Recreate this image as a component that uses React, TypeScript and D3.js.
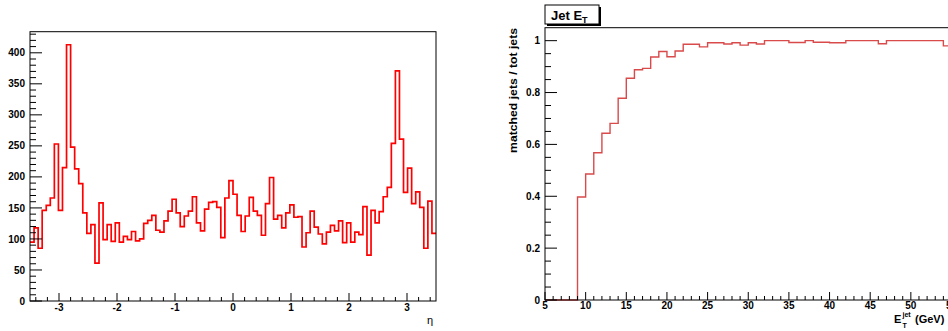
import React from "react";
import * as d3 from "d3";

// ---- Left panel: eta distribution (100 bins from -3.5 to 3.5)
const etaMin = -3.5;
const etaMax = 3.5;
const etaCounts = [
  95, 118, 85, 146, 154, 166, 253, 146, 215, 413, 248, 213, 189, 142, 109, 123, 61, 158, 99, 123, 96, 126, 95, 104, 99,
  112, 97, 100, 125, 130, 138, 114, 111, 129, 145, 164, 142, 120, 137, 145, 168, 126, 113, 148, 159, 160, 151, 102, 166, 194,
  172, 138, 112, 137, 167, 145, 138, 106, 157, 199, 132, 138, 118, 142, 155, 135, 136, 87, 110, 145, 119, 108, 92, 111, 122,
  113, 129, 94, 126, 95, 111, 107, 152, 74, 146, 126, 144, 168, 183, 254, 371, 261, 175, 214, 157, 176, 151, 85, 161, 109,
];
const etaYMax = 434;
const etaXTicks = [-3, -2, -1, 0, 1, 2, 3];
const etaYTicks = [0, 50, 100, 150, 200, 250, 300, 350, 400];

// ---- Right panel: efficiency vs jet ET (1 GeV bins from 5 to 55)
const etMin = 5;
const etMax = 55;
const effValues = [
  0, 0, 0, 0, 0.397, 0.486, 0.568, 0.643, 0.681, 0.778, 0.855, 0.888, 0.893, 0.937, 0.958, 0.938, 0.96, 0.986, 0.986, 0.976,
  0.992, 0.992, 0.987, 0.992, 0.983, 0.992, 0.987, 1.0, 1.0, 1.0, 0.993, 0.993, 1.0, 0.994, 0.994, 0.992, 0.992, 1.0, 1.0, 1.0,
  1.0, 0.988, 1.0, 1.0, 1.0, 1.0, 1.0, 1.0, 1.0, 0.98,
];
const effYMax = 1.05;
const etXTicks = [5, 10, 15, 20, 25, 30, 35, 40, 45, 50, 55];
const effYTicks = [0, 0.2, 0.4, 0.6, 0.8, 1];

const FONT = "'Liberation Sans', Arial, Helvetica, sans-serif";

function stepPoints(values: number[], lo: number, hi: number): [number, number][] {
  const w = (hi - lo) / values.length;
  const pts: [number, number][] = [];
  values.forEach((v, i) => {
    pts.push([lo + i * w, v]);
    pts.push([lo + (i + 1) * w, v]);
  });
  return pts;
}

export default function App() {
  // Left scales
  const lx = d3.scaleLinear().domain([etaMin, etaMax]).range([30, 436]);
  const ly = d3.scaleLinear().domain([0, etaYMax]).range([301, 31.7]);
  // Right scales
  const rx = d3.scaleLinear().domain([etMin, etMax]).range([545, 951.5]);
  const ry = d3.scaleLinear().domain([0, effYMax]).range([300, 27.7]);

  const leftLine = d3
    .line<[number, number]>()
    .x((d) => lx(d[0]))
    .y((d) => ly(d[1]))(stepPoints(etaCounts, etaMin, etaMax)) as string;
  const rightLine = d3
    .line<[number, number]>()
    .x((d) => rx(d[0]))
    .y((d) => ry(d[1]))(stepPoints(effValues, etMin, etMax)) as string;

  const leftXMinor = d3.range(-34, 35, 2).map((v) => v / 10);
  const leftYMinor = d3.range(0, 431, 10);
  const rightXMinor = d3.range(etMin, etMax + 1, 1);
  const rightYMinor = d3.range(0, 21, 1).map((v) => v * 0.05);

  return (
    <svg
      width={948}
      height={331}
      style={{ position: "absolute", left: 0, top: 0, background: "#fff" }}
      fontFamily={FONT}
    >
      <rect x={0} y={0} width={948} height={331} fill="#fff" />

      {/* ---------- Left panel ---------- */}
      <path d={leftLine} fill="none" stroke="#ff0000" strokeWidth={1.7} />
      <rect x={30} y={31.7} width={406} height={269.3} fill="none" stroke="#000" strokeWidth={1} />
      {leftXMinor.map((t) => {
        const major = Math.abs(t - Math.round(t)) < 1e-6;
        return (
          <line key={"lxm" + t} x1={lx(t)} x2={lx(t)} y1={301} y2={301 - (major ? 8 : 4)} stroke="#000" strokeWidth={1} />
        );
      })}
      {leftYMinor.map((t) => {
        const major = t % 50 === 0;
        return (
          <line key={"lym" + t} x1={30} x2={30 + (major ? 12 : 6)} y1={ly(t)} y2={ly(t)} stroke="#000" strokeWidth={1} />
        );
      })}
      {etaXTicks.map((t) => (
        <text key={"lxt" + t} x={lx(t)} y={311} textAnchor="middle" fontSize={10} fontWeight="bold" fill="#000">
          {t}
        </text>
      ))}
      {etaYTicks.map((t) => (
        <text key={"lyt" + t} x={25} y={ly(t)} dy="0.36em" textAnchor="end" fontSize={10} fontWeight="bold" fill="#000">
          {t}
        </text>
      ))}
      <text x={433} y={324} textAnchor="end" fontSize={11} fill="#000">
        η
      </text>

      {/* ---------- Right panel ---------- */}
      <path d={rightLine} fill="none" stroke="#d94a4a" strokeWidth={1.4} />
      <rect x={545} y={27.7} width={406.5} height={272.3} fill="none" stroke="#000" strokeWidth={1} />
      {rightXMinor.map((t) => {
        const major = t % 5 === 0;
        return (
          <line key={"rxm" + t} x1={rx(t)} x2={rx(t)} y1={300} y2={300 - (major ? 8 : 4)} stroke="#000" strokeWidth={1} />
        );
      })}
      {rightYMinor.map((t, i) => {
        const major = i % 4 === 0;
        return (
          <line key={"rym" + i} x1={545} x2={545 + (major ? 12 : 6)} y1={ry(t)} y2={ry(t)} stroke="#000" strokeWidth={1} />
        );
      })}
      {etXTicks.map((t) => (
        <text key={"rxt" + t} x={rx(t)} y={309} textAnchor="middle" fontSize={10} fontWeight="bold" fill="#000">
          {t}
        </text>
      ))}
      {effYTicks.map((t) => (
        <text key={"ryt" + t} x={540} y={ry(t)} dy="0.36em" textAnchor="end" fontSize={10} fontWeight="bold" fill="#000">
          {t}
        </text>
      ))}
      <text
        transform="translate(517,28) rotate(-90)"
        textAnchor="end"
        fontSize={11.5}
        fontWeight="bold"
        fill="#000"
        textLength={125}
        lengthAdjust="spacingAndGlyphs"
      >
        matched jets / tot jets
      </text>
      <text x={894} y={323} fontSize={11} fontWeight="bold" fill="#000">
        E
        <tspan x={902.5} y={317} fontSize={7}>
          jet
        </tspan>
        <tspan x={902.5} y={328} fontSize={7}>
          T
        </tspan>
        <tspan x={915} y={323}>
          (GeV)
        </tspan>
      </text>

      {/* Title box */}
      <rect x={547} y={7} width={54} height={19} fill="#000" />
      <rect x={545} y={5} width={54} height={19} fill="#fff" stroke="#000" strokeWidth={1} />
      <text x={551} y={19.5} fontSize={13} fontWeight="bold" fill="#000">
        Jet E
        <tspan fontSize={9} dy={3.5}>
          T
        </tspan>
      </text>
    </svg>
  );
}
